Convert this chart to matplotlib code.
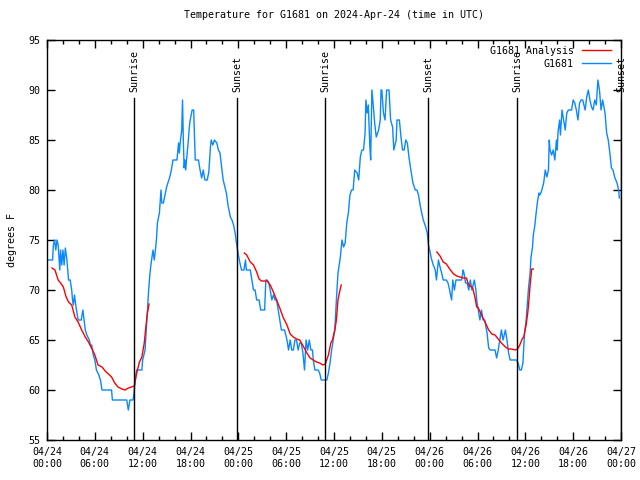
import numpy as np
import pandas as pd
import matplotlib
matplotlib.use("Agg")
import matplotlib.pyplot as plt
import matplotlib.dates as mdates

# Observations G1681 (heures depuis 2024-04-24 00:00 UTC, degres F)
obs_h = [0.0, 0.7, 0.8, 0.95, 1.1, 1.25, 1.4, 1.6, 1.7, 1.85, 2.0, 2.15, 2.3, 2.5, 2.7, 2.9, 3.1, 3.2,
         3.3, 3.45, 3.6, 3.7, 3.9, 4.3, 4.5, 4.65, 4.8, 5.0, 5.3, 5.5, 5.6, 5.8, 6.0, 6.2, 6.5, 6.7,
         6.9, 8.1, 8.2, 10.0, 10.1, 10.2, 10.3, 10.4, 10.8, 10.95, 11.05, 11.25, 11.9, 12.0, 12.3,
         12.45, 12.6, 12.75, 12.9, 13.0, 13.15, 13.3, 13.45, 13.6, 13.75, 13.85, 14.1, 14.3, 14.4,
         14.6, 14.8, 15.0, 15.2, 15.4, 15.6, 15.8, 16.3, 16.5, 16.6, 16.7, 16.9, 17.0, 17.1, 17.2,
         17.3, 17.4, 17.5, 17.7, 17.9, 18.2, 18.4, 18.5, 18.6, 19.0, 19.2, 19.4, 19.6, 19.8, 20.1,
         20.3, 20.5, 20.6, 20.8, 21.0, 21.3, 21.5, 21.7, 21.9, 22.1, 22.5, 22.7, 23.0, 23.2, 23.4,
         23.6, 23.8, 24.0, 24.2, 24.4, 24.7, 24.9, 25.0, 25.5, 25.7, 25.9, 26.1, 26.3, 26.6, 26.8,
         27.3, 27.45, 27.6, 27.8, 28.0, 28.2, 28.4, 28.6, 28.8, 29.0, 29.2, 29.4, 29.8, 30.1, 30.3,
         30.5, 30.7, 30.9, 31.1, 31.3, 31.5, 31.7, 31.9, 32.1, 32.3, 32.5, 32.7, 32.9, 33.1, 33.3,
         33.4, 33.6, 34.0, 34.2, 34.4, 34.9, 35.1, 35.3, 35.5, 35.7, 35.9, 36.1, 36.3, 36.5, 36.8,
         37.0, 37.2, 37.4, 37.6, 37.8, 38.0, 38.2, 38.4, 38.6, 38.9, 39.1, 39.3, 39.5, 39.7, 39.9,
         40.0, 40.15, 40.3, 40.5, 40.6, 40.75, 40.9, 41.1, 41.3, 41.6, 41.8, 41.9, 42.0, 42.2, 42.4,
         42.6, 42.9, 43.1, 43.35, 43.5, 43.8, 43.9, 44.2, 44.4, 44.6, 44.8, 45.0, 45.2, 45.4, 45.6,
         45.9, 46.2, 46.4, 46.6, 46.8, 47.0, 47.2, 47.5, 47.7, 47.85, 48.0, 48.2, 48.45, 48.7, 48.85,
         49.1, 49.3, 49.5, 49.7, 50.1, 50.3, 50.5, 50.75, 50.9, 51.1, 51.3, 52.0, 52.2, 52.3, 52.5,
         52.7, 52.9, 53.1, 53.3, 53.6, 53.8, 53.9, 54.1, 54.3, 54.5, 54.7, 54.9, 55.2, 55.4, 55.6,
         56.2, 56.4, 56.6, 56.8, 57.0, 57.2, 57.5, 57.7, 57.9, 58.1, 58.9, 59.1, 59.3, 59.5, 59.7,
         59.9, 60.1, 60.4, 60.6, 60.7, 60.9, 61.0, 61.2, 61.3, 61.5, 61.7, 61.8, 62.0, 62.3, 62.5,
         62.7, 62.9, 63.0, 63.1, 63.3, 63.5, 63.7, 63.9, 64.0, 64.1, 64.3, 64.4, 64.6, 64.8, 65.0,
         65.2, 65.4, 65.8, 66.0, 66.2, 66.4, 66.6, 66.8, 67.0, 67.2, 67.5, 67.7, 67.9, 68.1, 68.3,
         68.5, 68.7, 68.9, 69.1, 69.3, 69.5, 69.7, 70.0, 70.2, 70.4, 70.6, 70.8, 71.0, 71.2, 71.5,
         71.7, 71.8]
obs_t = [73, 73, 74.5, 75, 74, 75, 74.5, 72, 74, 72.5, 74, 72.5, 74.2, 73, 71, 71, 70, 69,
         68.5, 69.5, 68.5, 68, 67, 67, 68, 67, 66, 65.5, 65, 64.3, 64.5, 63.5, 63, 62, 61.5, 61,
         60, 60, 59, 59, 58.5, 58, 58.5, 59, 59, 60, 61, 62, 62, 63, 64,
         66, 68, 70, 71.5, 72.3, 73.2, 74, 73, 74, 75.3, 76.7, 77.7, 80, 78.7,
         78.7, 79.5, 80.3, 80.8, 81.3, 82, 83, 83, 84.7, 83.7, 84.7, 86, 89, 85, 82.2,
         83, 82, 83, 84.7, 86.7, 88, 88, 85.3, 83, 83, 82, 81.2, 82, 81, 81,
         81.8, 84.3, 85, 84.5, 85, 84.7, 84, 83.7, 82.3, 81, 79.7, 78.5, 77.3, 77, 76.5,
         75.7, 74.5, 73.5, 72.7, 72, 72, 73, 72, 72, 71, 70, 70, 69, 69, 68,
         68, 71, 71, 70.8, 70, 69, 69.5, 69, 69, 68, 67, 66, 66, 65, 64,
         65, 64, 64, 65, 65, 64, 64.7, 64.7, 63.7, 62, 65, 64, 65, 64, 64,
         63, 62, 62, 61.7, 61, 61, 61, 61.7, 62.7, 64, 65, 66, 69, 71.7, 73.3,
         75, 74.3, 74.7, 76.7, 77.7, 79.5, 80, 80, 82, 81.7, 81, 83.3, 84, 84, 85.7,
         89, 87.7, 88.5, 84.3, 83, 90, 88.7, 86.7, 85.3, 86, 87, 90, 90, 87.7, 87,
         90, 90, 87, 86.3, 84, 85, 87, 87, 85.3, 84, 84, 85, 84.7, 83.3, 82.2,
         80.7, 80, 80, 79.5, 78.5, 77.7, 77, 76.3, 75.7, 74.5, 74, 73.2, 72.5, 72, 71,
         73, 72.3, 71.7, 71, 71, 70.7, 70, 69, 71, 70, 71, 71, 72, 71.7, 70.7,
         70.7, 70, 71, 70, 71, 70, 69, 68, 67, 68, 67, 67, 65.7, 64.2, 64,
         64, 63.2, 64, 65, 66, 65, 66, 65, 63.7, 63, 63, 62.7, 62, 62, 62.7,
         65.7, 67, 70.2, 71.7, 73.2, 74.3, 75.5, 76.5, 77.3, 78.7, 79.7, 79.5, 79.8, 80.7, 82,
         81.3, 82, 85, 84, 83.5, 84, 83, 85, 84, 85.8, 87, 85.5, 88, 87, 86,
         87.7, 88, 88, 89, 88.7, 88, 87, 88.7, 89, 89, 88, 89.3, 90, 89, 88.3,
         88, 89, 88.5, 91, 90, 88, 89, 87.7, 85.7, 85, 83.7, 82.2, 82, 81.3, 80.7,
         80, 79.2]

# Analyse G1681 (trois segments, separes par nan)
ana_h = [0.63, 1.0, 1.4, 1.7, 2.05, 2.4, 2.7, 3.1, 3.5, 3.9, 4.35, 4.8, 5.2, 5.6, 6.0, 6.4,
         6.9, 7.3, 7.7, 8.1, 8.5, 8.9, 9.4, 9.8, 10.2, 10.6, 10.95, 11.25, 11.6, 11.9, 12.2,
         12.4, 12.6, 12.8, np.nan,
         24.75, 25.05, 25.5, 25.9, 26.3, 26.6, 26.9, 27.6, 28.0, 28.4, 28.8, 29.2, 29.6, 30.1,
         30.5, 30.9, 31.3, 31.7, 32.2, 32.6, 33.0, 33.4, 33.8, 34.2, 34.6, 34.9, 35.3, 35.6,
         35.8, 36.1, 36.3, 36.4, 36.5, 36.75, 36.9, np.nan,
         48.9, 49.3, 49.7, 50.1, 50.6, 51.0, 51.4, 51.8, 52.2, 52.6, 52.9, 53.4, 53.7, 53.9,
         54.1, 54.5, 54.95, 55.4, 55.8, 56.2, 56.6, 57.0, 57.5, 57.9, 58.3, 58.7, 59.05, 59.3,
         59.6, 59.8, 60.1, 60.3, 60.4, 60.6, 60.8, 61.0]
ana_t = [72.2, 72.0, 71.0, 70.7, 70.3, 69.3, 68.8, 68.5, 67.3, 66.8, 66.0, 65.3, 64.8, 64.2,
         63.5, 62.5, 62.3, 61.9, 61.6, 61.3, 60.7, 60.3, 60.1, 60.0, 60.2, 60.3, 60.4, 61.7,
         62.8, 63.3, 64.7, 66.3, 67.7, 68.6, np.nan,
         73.7, 73.5, 72.8, 72.5, 71.8, 71.1, 70.9, 70.9, 70.5, 69.8, 69.0, 68.2, 67.3, 66.5,
         65.6, 65.3, 65.1, 65.0, 64.3, 63.7, 63.2, 63.0, 62.8, 62.7, 62.5, 62.6, 63.5, 64.7,
         65.0, 66.0, 67.0, 68.0, 69.0, 70.0, 70.5, np.nan,
         73.8, 73.4, 72.8, 72.6, 72.0, 71.6, 71.4, 71.3, 71.2, 71.2, 70.5, 70.2, 69.2, 68.3,
         68.2, 67.5, 66.8, 66.0, 65.6, 65.5, 65.1, 64.7, 64.3, 64.1, 64.1, 64.0, 64.1, 64.5,
         65.1, 65.3, 66.5, 67.7, 68.5, 70.5, 72.1, 72.1]

# Lever / coucher du soleil
sun_h = [10.91, 23.83, 34.87, 47.79, 58.96, 72.0]
sun_lbl = ["Sunrise", "Sunset", "Sunrise", "Sunset", "Sunrise", "Sunset"]

debut = pd.Timestamp("2024-04-24 00:00")
def to_time(h):
    return debut + pd.to_timedelta(np.asarray(h, dtype=float), unit="h")

plt.rcParams['font.family'] = ['DejaVu Sans Mono']
plt.rcParams['font.size'] = 7.2

fig = plt.figure(figsize=(6.4, 4.8), dpi=100)
ax = fig.add_axes([47/640, 40/480, 574/640, 400/480])

ax.plot(to_time(ana_h), ana_t, color='#ff0000', lw=1.0, label="G1681 Analysis", zorder=3)
ax.plot(to_time(obs_h), obs_t, color='#0a88ff', lw=1.0, label="G1681", zorder=2)

# Traits verticaux
for h, lbl in zip(sun_h, sun_lbl):
    t = to_time([h])[0]
    ax.plot([t, t], [55, 89.2], color='k', lw=1.0, zorder=4)
    ax.text(t, 89.8, lbl, rotation=90, ha='center', va='bottom', fontsize=7.2)

ax.set_xlim(to_time([0])[0], to_time([72])[0])
ax.set_ylim(55, 95)
ax.set_yticks(np.arange(55, 96, 5))
ax.xaxis.set_major_locator(mdates.HourLocator(byhour=[0, 6, 12, 18]))
ax.xaxis.set_minor_locator(mdates.HourLocator(byhour=range(0, 24, 2)))
ax.xaxis.set_major_formatter(mdates.DateFormatter('%m/%d\n%H:%M'))
ax.tick_params(which='both', direction='in', top=True, right=True, pad=5)
ax.tick_params(which='major', length=6, width=1)
ax.tick_params(which='minor', length=3, width=1)
for s in ax.spines.values():
    s.set_linewidth(1)

ax.set_title("Temperature for G1681 on 2024-Apr-24 (time in UTC)", pad=16, fontsize=7.2)
ax.set_ylabel("degrees F", labelpad=8)

ax.legend(loc='upper right', bbox_to_anchor=(1 - 4/574, 1), frameon=False, markerfirst=False,
          handlelength=2.9, borderaxespad=0.2, labelspacing=0.3, handletextpad=0.8)

fig.savefig("out.png", dpi=100)
